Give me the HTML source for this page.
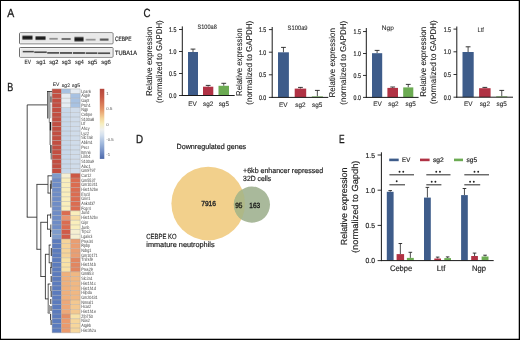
<!DOCTYPE html>
<html><head><meta charset="utf-8"><style>
html,body{margin:0;padding:0;background:#fff;}
svg{display:block;will-change:transform;font-family:"Liberation Sans", sans-serif;text-rendering:geometricPrecision;}
</style></head><body>
<svg width="520" height="340" viewBox="0 0 520 340">
<rect width="520" height="340" fill="#fff"/>
<text x="7.2" y="16.8" font-size="11.8" text-anchor="start" fill="#1a1a1a" stroke="#1a1a1a" stroke-width="0.3" textLength="7.0" lengthAdjust="spacingAndGlyphs">A</text>
<text x="7.2" y="91.0" font-size="11.8" text-anchor="start" fill="#1a1a1a" stroke="#1a1a1a" stroke-width="0.3" textLength="6.0" lengthAdjust="spacingAndGlyphs">B</text>
<text x="143.5" y="16.9" font-size="11.8" text-anchor="start" fill="#1a1a1a" stroke="#1a1a1a" stroke-width="0.3" textLength="7.0" lengthAdjust="spacingAndGlyphs">C</text>
<text x="136" y="143.1" font-size="11.8" text-anchor="start" fill="#1a1a1a" stroke="#1a1a1a" stroke-width="0.3" textLength="7.1" lengthAdjust="spacingAndGlyphs">D</text>
<text x="338.9" y="143.1" font-size="11.8" text-anchor="start" fill="#1a1a1a" stroke="#1a1a1a" stroke-width="0.3" textLength="5.6" lengthAdjust="spacingAndGlyphs">E</text>
<defs><filter id="bl" x="-20%" y="-50%" width="140%" height="200%"><feGaussianBlur stdDeviation="0.75"/></filter><filter id="bl2" x="-20%" y="-50%" width="140%" height="200%"><feGaussianBlur stdDeviation="0.55"/></filter></defs>
<rect x="19.5" y="32.8" width="93.5" height="11.0" rx="0.8" fill="#e8e8e8" stroke="#6e6e6e" stroke-width="1"/>
<rect x="20.5" y="33.699999999999996" width="91.5" height="9.2" fill="none" stroke="#f6f6f6" stroke-width="0.7"/>
<rect x="19.5" y="47.5" width="93.5" height="9.7" rx="0.8" fill="#e8e8e8" stroke="#6e6e6e" stroke-width="1"/>
<rect x="20.5" y="48.4" width="91.5" height="7.9" fill="none" stroke="#f6f6f6" stroke-width="0.7"/>
<defs><linearGradient id="bg" x1="0" y1="0" x2="0" y2="1"><stop offset="0" stop-color="#111" stop-opacity="0"/><stop offset="0.28" stop-color="#111" stop-opacity="0.85"/><stop offset="0.5" stop-color="#111" stop-opacity="1"/><stop offset="0.72" stop-color="#111" stop-opacity="0.85"/><stop offset="1" stop-color="#111" stop-opacity="0"/></linearGradient><linearGradient id="bh" x1="0" y1="0" x2="1" y2="0"><stop offset="0" stop-color="#fff" stop-opacity="0"/><stop offset="0.15" stop-color="#fff" stop-opacity="1"/><stop offset="0.85" stop-color="#fff" stop-opacity="1"/><stop offset="1" stop-color="#fff" stop-opacity="0"/></linearGradient><mask id="mh" maskContentUnits="objectBoundingBox"><rect width="1" height="1" fill="url(#bh)"/></mask><linearGradient id="bh2" x1="0" y1="0" x2="1" y2="0"><stop offset="0" stop-color="#fff" stop-opacity="0.3"/><stop offset="0.06" stop-color="#fff" stop-opacity="1"/><stop offset="0.94" stop-color="#fff" stop-opacity="1"/><stop offset="1" stop-color="#fff" stop-opacity="0.3"/></linearGradient><mask id="mh2" maskContentUnits="objectBoundingBox"><rect width="1" height="1" fill="url(#bh2)"/></mask></defs>
<rect x="21.4" y="34.9" width="12.0" height="5.6" fill="url(#bg)" opacity="1.0" mask="url(#mh)"/>
<rect x="34.6" y="35.5" width="11.9" height="5.2" fill="url(#bg)" opacity="1.0" mask="url(#mh)"/>
<rect x="48.6" y="37.3" width="10.0" height="2.8" fill="url(#bg)" opacity="0.42" mask="url(#mh)"/>
<rect x="60.8" y="37.4" width="10.8" height="3.2" fill="url(#bg)" opacity="0.6" mask="url(#mh)"/>
<rect x="73.6" y="36.1" width="10.8" height="6.2" fill="url(#bg)" opacity="1.0" mask="url(#mh)"/>
<rect x="85.0" y="38.2" width="11.5" height="2.8" fill="url(#bg)" opacity="0.4" mask="url(#mh)"/>
<rect x="99.1" y="38.0" width="10.2" height="3.2" fill="url(#bg)" opacity="0.68" mask="url(#mh)"/>
<rect x="22.3" y="50.3" width="11.7" height="2.6" fill="url(#bg)" opacity="0.75" mask="url(#mh2)"/>
<rect x="34.0" y="51.0" width="13.0" height="2.6" fill="url(#bg)" opacity="0.75" mask="url(#mh2)"/>
<rect x="47.0" y="51.5" width="12.5" height="2.6" fill="url(#bg)" opacity="0.75" mask="url(#mh2)"/>
<rect x="59.5" y="51.6" width="13.0" height="2.6" fill="url(#bg)" opacity="0.75" mask="url(#mh2)"/>
<rect x="72.5" y="51.7" width="12.7" height="2.6" fill="url(#bg)" opacity="0.75" mask="url(#mh2)"/>
<rect x="85.2" y="51.9" width="12.6" height="2.6" fill="url(#bg)" opacity="0.75" mask="url(#mh2)"/>
<rect x="97.8" y="52.0" width="12.7" height="2.6" fill="url(#bg)" opacity="0.75" mask="url(#mh2)"/>
<text x="115" y="41.2" font-size="6.3" text-anchor="start" fill="#1e1e1e" stroke="#1e1e1e" stroke-width="0.18" textLength="16.5" lengthAdjust="spacingAndGlyphs">CEBPE</text>
<text x="115" y="55.3" font-size="6.3" text-anchor="start" fill="#1e1e1e" stroke="#1e1e1e" stroke-width="0.18" textLength="22" lengthAdjust="spacingAndGlyphs">TUBA1A</text>
<text x="24.5" y="64.4" font-size="6.1" text-anchor="start" fill="#1e1e1e" stroke="#1e1e1e" stroke-width="0.1" textLength="6.4" lengthAdjust="spacingAndGlyphs">EV</text>
<text x="36.2" y="64.4" font-size="6.1" text-anchor="start" fill="#1e1e1e" stroke="#1e1e1e" stroke-width="0.1" textLength="9.6" lengthAdjust="spacingAndGlyphs">sg1</text>
<text x="49.2" y="64.4" font-size="6.1" text-anchor="start" fill="#1e1e1e" stroke="#1e1e1e" stroke-width="0.1" textLength="9.1" lengthAdjust="spacingAndGlyphs">sg2</text>
<text x="61.7" y="64.4" font-size="6.1" text-anchor="start" fill="#1e1e1e" stroke="#1e1e1e" stroke-width="0.1" textLength="9.1" lengthAdjust="spacingAndGlyphs">sg3</text>
<text x="75" y="64.4" font-size="6.1" text-anchor="start" fill="#1e1e1e" stroke="#1e1e1e" stroke-width="0.1" textLength="8.8" lengthAdjust="spacingAndGlyphs">sg4</text>
<text x="87.7" y="64.4" font-size="6.1" text-anchor="start" fill="#1e1e1e" stroke="#1e1e1e" stroke-width="0.1" textLength="9.6" lengthAdjust="spacingAndGlyphs">sg5</text>
<text x="101.2" y="64.4" font-size="6.1" text-anchor="start" fill="#1e1e1e" stroke="#1e1e1e" stroke-width="0.1" textLength="9.6" lengthAdjust="spacingAndGlyphs">sg6</text>
<rect x="52.1" y="88.9" width="9.3" height="4.69" fill="#c24e41"/>
<rect x="61.4" y="88.9" width="9.2" height="4.69" fill="#a8c2e2"/>
<rect x="70.6" y="88.9" width="9.6" height="4.69" fill="#e6ecf2"/>
<rect x="52.1" y="93.59" width="9.3" height="4.69" fill="#c24e41"/>
<rect x="61.4" y="93.59" width="9.2" height="4.69" fill="#e6ecf2"/>
<rect x="70.6" y="93.59" width="9.6" height="4.69" fill="#a8c2e2"/>
<rect x="52.1" y="98.28" width="9.3" height="4.69" fill="#c24e41"/>
<rect x="61.4" y="98.28" width="9.2" height="4.69" fill="#e6ecf2"/>
<rect x="70.6" y="98.28" width="9.6" height="4.69" fill="#a8c2e2"/>
<rect x="52.1" y="102.97" width="9.3" height="4.69" fill="#c24e41"/>
<rect x="61.4" y="102.97" width="9.2" height="4.69" fill="#e6ecf2"/>
<rect x="70.6" y="102.97" width="9.6" height="4.69" fill="#a8c2e2"/>
<rect x="52.1" y="107.66" width="9.3" height="4.69" fill="#c24e41"/>
<rect x="61.4" y="107.66" width="9.2" height="4.69" fill="#c8d8ea"/>
<rect x="70.6" y="107.66" width="9.6" height="4.69" fill="#d0dcea"/>
<rect x="52.1" y="112.35" width="9.3" height="4.69" fill="#c24e41"/>
<rect x="61.4" y="112.35" width="9.2" height="4.69" fill="#c8d8ea"/>
<rect x="70.6" y="112.35" width="9.6" height="4.69" fill="#d0dcea"/>
<rect x="52.1" y="117.04" width="9.3" height="4.69" fill="#c24e41"/>
<rect x="61.4" y="117.04" width="9.2" height="4.69" fill="#c8d8ea"/>
<rect x="70.6" y="117.04" width="9.6" height="4.69" fill="#d0dcea"/>
<rect x="52.1" y="121.73" width="9.3" height="4.69" fill="#c24e41"/>
<rect x="61.4" y="121.73" width="9.2" height="4.69" fill="#c8d8ea"/>
<rect x="70.6" y="121.73" width="9.6" height="4.69" fill="#d0dcea"/>
<rect x="52.1" y="126.42" width="9.3" height="4.69" fill="#c24e41"/>
<rect x="61.4" y="126.42" width="9.2" height="4.69" fill="#c8d8ea"/>
<rect x="70.6" y="126.42" width="9.6" height="4.69" fill="#d0dcea"/>
<rect x="52.1" y="131.11" width="9.3" height="4.69" fill="#c24e41"/>
<rect x="61.4" y="131.11" width="9.2" height="4.69" fill="#c8d8ea"/>
<rect x="70.6" y="131.11" width="9.6" height="4.69" fill="#d0dcea"/>
<rect x="52.1" y="135.8" width="9.3" height="4.69" fill="#c24e41"/>
<rect x="61.4" y="135.8" width="9.2" height="4.69" fill="#c8d8ea"/>
<rect x="70.6" y="135.8" width="9.6" height="4.69" fill="#d0dcea"/>
<rect x="52.1" y="140.49" width="9.3" height="4.69" fill="#c24e41"/>
<rect x="61.4" y="140.49" width="9.2" height="4.69" fill="#c8d8ea"/>
<rect x="70.6" y="140.49" width="9.6" height="4.69" fill="#d0dcea"/>
<rect x="52.1" y="145.18" width="9.3" height="4.69" fill="#c24e41"/>
<rect x="61.4" y="145.18" width="9.2" height="4.69" fill="#c8d8ea"/>
<rect x="70.6" y="145.18" width="9.6" height="4.69" fill="#d0dcea"/>
<rect x="52.1" y="149.87" width="9.3" height="4.69" fill="#c24e41"/>
<rect x="61.4" y="149.87" width="9.2" height="4.69" fill="#c8d8ea"/>
<rect x="70.6" y="149.87" width="9.6" height="4.69" fill="#d0dcea"/>
<rect x="52.1" y="154.56" width="9.3" height="4.69" fill="#c24e41"/>
<rect x="61.4" y="154.56" width="9.2" height="4.69" fill="#c8d8ea"/>
<rect x="70.6" y="154.56" width="9.6" height="4.69" fill="#d0dcea"/>
<rect x="52.1" y="159.25" width="9.3" height="4.69" fill="#c24e41"/>
<rect x="61.4" y="159.25" width="9.2" height="4.69" fill="#c8d8ea"/>
<rect x="70.6" y="159.25" width="9.6" height="4.69" fill="#d0dcea"/>
<rect x="52.1" y="163.94" width="9.3" height="4.69" fill="#c24e41"/>
<rect x="61.4" y="163.94" width="9.2" height="4.69" fill="#c8d8ea"/>
<rect x="70.6" y="163.94" width="9.6" height="4.69" fill="#d0dcea"/>
<rect x="52.1" y="168.63" width="9.3" height="4.69" fill="#c24e41"/>
<rect x="61.4" y="168.63" width="9.2" height="4.69" fill="#c8d8ea"/>
<rect x="70.6" y="168.63" width="9.6" height="4.69" fill="#d0dcea"/>
<rect x="52.1" y="173.32" width="9.3" height="4.69" fill="#7e9ccc"/>
<rect x="61.4" y="173.32" width="9.2" height="4.69" fill="#f5efd2"/>
<rect x="70.6" y="173.32" width="9.6" height="4.69" fill="#cc5844"/>
<rect x="52.1" y="178.01" width="9.3" height="4.69" fill="#6e8cc6"/>
<rect x="61.4" y="178.01" width="9.2" height="4.69" fill="#f9eebc"/>
<rect x="70.6" y="178.01" width="9.6" height="4.69" fill="#db6c50"/>
<rect x="52.1" y="182.7" width="9.3" height="4.69" fill="#6e8cc6"/>
<rect x="61.4" y="182.7" width="9.2" height="4.69" fill="#f9eebc"/>
<rect x="70.6" y="182.7" width="9.6" height="4.69" fill="#db6c50"/>
<rect x="52.1" y="187.39" width="9.3" height="4.69" fill="#6e8cc6"/>
<rect x="61.4" y="187.39" width="9.2" height="4.69" fill="#f9eebc"/>
<rect x="70.6" y="187.39" width="9.6" height="4.69" fill="#db6c50"/>
<rect x="52.1" y="192.08" width="9.3" height="4.69" fill="#6e8cc6"/>
<rect x="61.4" y="192.08" width="9.2" height="4.69" fill="#f9eebc"/>
<rect x="70.6" y="192.08" width="9.6" height="4.69" fill="#db6c50"/>
<rect x="52.1" y="196.77" width="9.3" height="4.69" fill="#6e8cc6"/>
<rect x="61.4" y="196.77" width="9.2" height="4.69" fill="#f9eebc"/>
<rect x="70.6" y="196.77" width="9.6" height="4.69" fill="#db6c50"/>
<rect x="52.1" y="201.46" width="9.3" height="4.69" fill="#6e8cc6"/>
<rect x="61.4" y="201.46" width="9.2" height="4.69" fill="#f9eebc"/>
<rect x="70.6" y="201.46" width="9.6" height="4.69" fill="#db6c50"/>
<rect x="52.1" y="206.15" width="9.3" height="4.69" fill="#6e8cc6"/>
<rect x="61.4" y="206.15" width="9.2" height="4.69" fill="#f9eebc"/>
<rect x="70.6" y="206.15" width="9.6" height="4.69" fill="#db6c50"/>
<rect x="52.1" y="210.84" width="9.3" height="4.69" fill="#6e8cc6"/>
<rect x="61.4" y="210.84" width="9.2" height="4.69" fill="#db6c50"/>
<rect x="70.6" y="210.84" width="9.6" height="4.69" fill="#f9eebc"/>
<rect x="52.1" y="215.53" width="9.3" height="4.69" fill="#6e8cc6"/>
<rect x="61.4" y="215.53" width="9.2" height="4.69" fill="#e89470"/>
<rect x="70.6" y="215.53" width="9.6" height="4.69" fill="#f7dca4"/>
<rect x="52.1" y="220.22" width="9.3" height="4.69" fill="#6e8cc6"/>
<rect x="61.4" y="220.22" width="9.2" height="4.69" fill="#db6c50"/>
<rect x="70.6" y="220.22" width="9.6" height="4.69" fill="#f9eebc"/>
<rect x="52.1" y="224.91" width="9.3" height="4.69" fill="#6e8cc6"/>
<rect x="61.4" y="224.91" width="9.2" height="4.69" fill="#db6c50"/>
<rect x="70.6" y="224.91" width="9.6" height="4.69" fill="#f9eebc"/>
<rect x="52.1" y="229.6" width="9.3" height="4.69" fill="#7e9ccc"/>
<rect x="61.4" y="229.6" width="9.2" height="4.69" fill="#d05a48"/>
<rect x="70.6" y="229.6" width="9.6" height="4.69" fill="#f5efd2"/>
<rect x="52.1" y="234.29" width="9.3" height="4.69" fill="#7e9ccc"/>
<rect x="61.4" y="234.29" width="9.2" height="4.69" fill="#d05a48"/>
<rect x="70.6" y="234.29" width="9.6" height="4.69" fill="#f5efd2"/>
<rect x="52.1" y="238.98" width="9.3" height="4.69" fill="#5b7bbd"/>
<rect x="61.4" y="238.98" width="9.2" height="4.69" fill="#f6d49a"/>
<rect x="70.6" y="238.98" width="9.6" height="4.69" fill="#e99e72"/>
<rect x="52.1" y="243.67" width="9.3" height="4.69" fill="#5b7bbd"/>
<rect x="61.4" y="243.67" width="9.2" height="4.69" fill="#f6d49a"/>
<rect x="70.6" y="243.67" width="9.6" height="4.69" fill="#e99e72"/>
<rect x="52.1" y="248.36" width="9.3" height="4.69" fill="#5b7bbd"/>
<rect x="61.4" y="248.36" width="9.2" height="4.69" fill="#f6d49a"/>
<rect x="70.6" y="248.36" width="9.6" height="4.69" fill="#e99e72"/>
<rect x="52.1" y="253.05" width="9.3" height="4.69" fill="#5b7bbd"/>
<rect x="61.4" y="253.05" width="9.2" height="4.69" fill="#f6d49a"/>
<rect x="70.6" y="253.05" width="9.6" height="4.69" fill="#e99e72"/>
<rect x="52.1" y="257.74" width="9.3" height="4.69" fill="#5b7bbd"/>
<rect x="61.4" y="257.74" width="9.2" height="4.69" fill="#f8e2a6"/>
<rect x="70.6" y="257.74" width="9.6" height="4.69" fill="#e28660"/>
<rect x="52.1" y="262.43" width="9.3" height="4.69" fill="#5b7bbd"/>
<rect x="61.4" y="262.43" width="9.2" height="4.69" fill="#f8e2a6"/>
<rect x="70.6" y="262.43" width="9.6" height="4.69" fill="#e28660"/>
<rect x="52.1" y="267.12" width="9.3" height="4.69" fill="#5b7bbd"/>
<rect x="61.4" y="267.12" width="9.2" height="4.69" fill="#f8e2a6"/>
<rect x="70.6" y="267.12" width="9.6" height="4.69" fill="#e28660"/>
<rect x="52.1" y="271.81" width="9.3" height="4.69" fill="#5b7bbd"/>
<rect x="61.4" y="271.81" width="9.2" height="4.69" fill="#efb07c"/>
<rect x="70.6" y="271.81" width="9.6" height="4.69" fill="#f0b883"/>
<rect x="52.1" y="276.5" width="9.3" height="4.69" fill="#5b7bbd"/>
<rect x="61.4" y="276.5" width="9.2" height="4.69" fill="#efb07c"/>
<rect x="70.6" y="276.5" width="9.6" height="4.69" fill="#f0b883"/>
<rect x="52.1" y="281.19" width="9.3" height="4.69" fill="#5b7bbd"/>
<rect x="61.4" y="281.19" width="9.2" height="4.69" fill="#efb07c"/>
<rect x="70.6" y="281.19" width="9.6" height="4.69" fill="#f0b883"/>
<rect x="52.1" y="285.88" width="9.3" height="4.69" fill="#5b7bbd"/>
<rect x="61.4" y="285.88" width="9.2" height="4.69" fill="#efb07c"/>
<rect x="70.6" y="285.88" width="9.6" height="4.69" fill="#f0b883"/>
<rect x="52.1" y="290.57" width="9.3" height="4.69" fill="#5b7bbd"/>
<rect x="61.4" y="290.57" width="9.2" height="4.69" fill="#efb07c"/>
<rect x="70.6" y="290.57" width="9.6" height="4.69" fill="#f0b883"/>
<rect x="52.1" y="295.26" width="9.3" height="4.69" fill="#5b7bbd"/>
<rect x="61.4" y="295.26" width="9.2" height="4.69" fill="#efb07c"/>
<rect x="70.6" y="295.26" width="9.6" height="4.69" fill="#f0b883"/>
<rect x="52.1" y="299.95" width="9.3" height="4.69" fill="#5b7bbd"/>
<rect x="61.4" y="299.95" width="9.2" height="4.69" fill="#eea878"/>
<rect x="70.6" y="299.95" width="9.6" height="4.69" fill="#f3c890"/>
<rect x="52.1" y="304.64" width="9.3" height="4.69" fill="#5b7bbd"/>
<rect x="61.4" y="304.64" width="9.2" height="4.69" fill="#eea878"/>
<rect x="70.6" y="304.64" width="9.6" height="4.69" fill="#f3c890"/>
<rect x="52.1" y="309.33" width="9.3" height="4.69" fill="#5b7bbd"/>
<rect x="61.4" y="309.33" width="9.2" height="4.69" fill="#eea878"/>
<rect x="70.6" y="309.33" width="9.6" height="4.69" fill="#f3c890"/>
<rect x="52.1" y="314.02" width="9.3" height="4.69" fill="#5b7bbd"/>
<rect x="61.4" y="314.02" width="9.2" height="4.69" fill="#e48e64"/>
<rect x="70.6" y="314.02" width="9.6" height="4.69" fill="#f8e2a8"/>
<rect x="52.1" y="318.71" width="9.3" height="4.69" fill="#5b7bbd"/>
<rect x="61.4" y="318.71" width="9.2" height="4.69" fill="#eb9a6c"/>
<rect x="70.6" y="318.71" width="9.6" height="4.69" fill="#f6d69c"/>
<rect x="52.1" y="323.4" width="9.3" height="4.69" fill="#5b7bbd"/>
<rect x="61.4" y="323.4" width="9.2" height="4.69" fill="#eb9a6c"/>
<rect x="70.6" y="323.4" width="9.6" height="4.69" fill="#f6d69c"/>
<rect x="52.1" y="328.09" width="9.3" height="4.69" fill="#5b7bbd"/>
<rect x="61.4" y="328.09" width="9.2" height="4.69" fill="#eb9a6c"/>
<rect x="70.6" y="328.09" width="9.6" height="4.69" fill="#f6d69c"/>
<line x1="52.1" y1="88.9" x2="80.2" y2="88.9" stroke="#a4a4a4" stroke-width="0.6" opacity="0.75"/>
<line x1="52.1" y1="93.59" x2="80.2" y2="93.59" stroke="#a4a4a4" stroke-width="0.6" opacity="0.75"/>
<line x1="52.1" y1="98.28" x2="80.2" y2="98.28" stroke="#a4a4a4" stroke-width="0.6" opacity="0.75"/>
<line x1="52.1" y1="102.97" x2="80.2" y2="102.97" stroke="#a4a4a4" stroke-width="0.6" opacity="0.75"/>
<line x1="52.1" y1="107.66" x2="80.2" y2="107.66" stroke="#a4a4a4" stroke-width="0.6" opacity="0.75"/>
<line x1="52.1" y1="112.35" x2="80.2" y2="112.35" stroke="#a4a4a4" stroke-width="0.6" opacity="0.75"/>
<line x1="52.1" y1="117.04" x2="80.2" y2="117.04" stroke="#a4a4a4" stroke-width="0.6" opacity="0.75"/>
<line x1="52.1" y1="121.73" x2="80.2" y2="121.73" stroke="#a4a4a4" stroke-width="0.6" opacity="0.75"/>
<line x1="52.1" y1="126.42" x2="80.2" y2="126.42" stroke="#a4a4a4" stroke-width="0.6" opacity="0.75"/>
<line x1="52.1" y1="131.11" x2="80.2" y2="131.11" stroke="#a4a4a4" stroke-width="0.6" opacity="0.75"/>
<line x1="52.1" y1="135.8" x2="80.2" y2="135.8" stroke="#a4a4a4" stroke-width="0.6" opacity="0.75"/>
<line x1="52.1" y1="140.49" x2="80.2" y2="140.49" stroke="#a4a4a4" stroke-width="0.6" opacity="0.75"/>
<line x1="52.1" y1="145.18" x2="80.2" y2="145.18" stroke="#a4a4a4" stroke-width="0.6" opacity="0.75"/>
<line x1="52.1" y1="149.87" x2="80.2" y2="149.87" stroke="#a4a4a4" stroke-width="0.6" opacity="0.75"/>
<line x1="52.1" y1="154.56" x2="80.2" y2="154.56" stroke="#a4a4a4" stroke-width="0.6" opacity="0.75"/>
<line x1="52.1" y1="159.25" x2="80.2" y2="159.25" stroke="#a4a4a4" stroke-width="0.6" opacity="0.75"/>
<line x1="52.1" y1="163.94" x2="80.2" y2="163.94" stroke="#a4a4a4" stroke-width="0.6" opacity="0.75"/>
<line x1="52.1" y1="168.63" x2="80.2" y2="168.63" stroke="#a4a4a4" stroke-width="0.6" opacity="0.75"/>
<line x1="52.1" y1="173.32" x2="80.2" y2="173.32" stroke="#a4a4a4" stroke-width="0.6" opacity="0.75"/>
<line x1="52.1" y1="178.01" x2="80.2" y2="178.01" stroke="#a4a4a4" stroke-width="0.6" opacity="0.75"/>
<line x1="52.1" y1="182.7" x2="80.2" y2="182.7" stroke="#a4a4a4" stroke-width="0.6" opacity="0.75"/>
<line x1="52.1" y1="187.39" x2="80.2" y2="187.39" stroke="#a4a4a4" stroke-width="0.6" opacity="0.75"/>
<line x1="52.1" y1="192.08" x2="80.2" y2="192.08" stroke="#a4a4a4" stroke-width="0.6" opacity="0.75"/>
<line x1="52.1" y1="196.77" x2="80.2" y2="196.77" stroke="#a4a4a4" stroke-width="0.6" opacity="0.75"/>
<line x1="52.1" y1="201.46" x2="80.2" y2="201.46" stroke="#a4a4a4" stroke-width="0.6" opacity="0.75"/>
<line x1="52.1" y1="206.15" x2="80.2" y2="206.15" stroke="#a4a4a4" stroke-width="0.6" opacity="0.75"/>
<line x1="52.1" y1="210.84" x2="80.2" y2="210.84" stroke="#a4a4a4" stroke-width="0.6" opacity="0.75"/>
<line x1="52.1" y1="215.53" x2="80.2" y2="215.53" stroke="#a4a4a4" stroke-width="0.6" opacity="0.75"/>
<line x1="52.1" y1="220.22" x2="80.2" y2="220.22" stroke="#a4a4a4" stroke-width="0.6" opacity="0.75"/>
<line x1="52.1" y1="224.91" x2="80.2" y2="224.91" stroke="#a4a4a4" stroke-width="0.6" opacity="0.75"/>
<line x1="52.1" y1="229.6" x2="80.2" y2="229.6" stroke="#a4a4a4" stroke-width="0.6" opacity="0.75"/>
<line x1="52.1" y1="234.29" x2="80.2" y2="234.29" stroke="#a4a4a4" stroke-width="0.6" opacity="0.75"/>
<line x1="52.1" y1="238.98" x2="80.2" y2="238.98" stroke="#a4a4a4" stroke-width="0.6" opacity="0.75"/>
<line x1="52.1" y1="243.67" x2="80.2" y2="243.67" stroke="#a4a4a4" stroke-width="0.6" opacity="0.75"/>
<line x1="52.1" y1="248.36" x2="80.2" y2="248.36" stroke="#a4a4a4" stroke-width="0.6" opacity="0.75"/>
<line x1="52.1" y1="253.05" x2="80.2" y2="253.05" stroke="#a4a4a4" stroke-width="0.6" opacity="0.75"/>
<line x1="52.1" y1="257.74" x2="80.2" y2="257.74" stroke="#a4a4a4" stroke-width="0.6" opacity="0.75"/>
<line x1="52.1" y1="262.43" x2="80.2" y2="262.43" stroke="#a4a4a4" stroke-width="0.6" opacity="0.75"/>
<line x1="52.1" y1="267.12" x2="80.2" y2="267.12" stroke="#a4a4a4" stroke-width="0.6" opacity="0.75"/>
<line x1="52.1" y1="271.81" x2="80.2" y2="271.81" stroke="#a4a4a4" stroke-width="0.6" opacity="0.75"/>
<line x1="52.1" y1="276.5" x2="80.2" y2="276.5" stroke="#a4a4a4" stroke-width="0.6" opacity="0.75"/>
<line x1="52.1" y1="281.19" x2="80.2" y2="281.19" stroke="#a4a4a4" stroke-width="0.6" opacity="0.75"/>
<line x1="52.1" y1="285.88" x2="80.2" y2="285.88" stroke="#a4a4a4" stroke-width="0.6" opacity="0.75"/>
<line x1="52.1" y1="290.57" x2="80.2" y2="290.57" stroke="#a4a4a4" stroke-width="0.6" opacity="0.75"/>
<line x1="52.1" y1="295.26" x2="80.2" y2="295.26" stroke="#a4a4a4" stroke-width="0.6" opacity="0.75"/>
<line x1="52.1" y1="299.95" x2="80.2" y2="299.95" stroke="#a4a4a4" stroke-width="0.6" opacity="0.75"/>
<line x1="52.1" y1="304.64" x2="80.2" y2="304.64" stroke="#a4a4a4" stroke-width="0.6" opacity="0.75"/>
<line x1="52.1" y1="309.33" x2="80.2" y2="309.33" stroke="#a4a4a4" stroke-width="0.6" opacity="0.75"/>
<line x1="52.1" y1="314.02" x2="80.2" y2="314.02" stroke="#a4a4a4" stroke-width="0.6" opacity="0.75"/>
<line x1="52.1" y1="318.71" x2="80.2" y2="318.71" stroke="#a4a4a4" stroke-width="0.6" opacity="0.75"/>
<line x1="52.1" y1="323.4" x2="80.2" y2="323.4" stroke="#a4a4a4" stroke-width="0.6" opacity="0.75"/>
<line x1="52.1" y1="328.09" x2="80.2" y2="328.09" stroke="#a4a4a4" stroke-width="0.6" opacity="0.75"/>
<line x1="52.1" y1="332.78" x2="80.2" y2="332.78" stroke="#a4a4a4" stroke-width="0.6" opacity="0.75"/>
<line x1="52.1" y1="88.9" x2="52.1" y2="332.78000000000003" stroke="#9a9a9a" stroke-width="0.45" opacity="0.8"/>
<line x1="61.4" y1="88.9" x2="61.4" y2="332.78000000000003" stroke="#9a9a9a" stroke-width="0.45" opacity="0.8"/>
<line x1="70.6" y1="88.9" x2="70.6" y2="332.78000000000003" stroke="#9a9a9a" stroke-width="0.45" opacity="0.8"/>
<line x1="80.2" y1="88.9" x2="80.2" y2="332.78000000000003" stroke="#9a9a9a" stroke-width="0.45" opacity="0.8"/>
<g transform="translate(81.2,0) scale(0.8,1)">
<text x="0" y="92.55" font-size="4.7" text-anchor="start" fill="#404040" stroke="#404040" stroke-width="0">Lpar6</text>
<text x="0" y="97.24" font-size="4.7" text-anchor="start" fill="#404040" stroke="#404040" stroke-width="0">Aqp9</text>
<text x="0" y="101.93" font-size="4.7" text-anchor="start" fill="#404040" stroke="#404040" stroke-width="0">Gapt</text>
<text x="0" y="106.62" font-size="4.7" text-anchor="start" fill="#404040" stroke="#404040" stroke-width="0">Ptch1</text>
<text x="0" y="111.31" font-size="4.7" text-anchor="start" fill="#404040" stroke="#404040" stroke-width="0">Ngp</text>
<text x="0" y="116.0" font-size="4.7" text-anchor="start" fill="#404040" stroke="#404040" stroke-width="0">Cebpe</text>
<text x="0" y="120.69" font-size="4.7" text-anchor="start" fill="#404040" stroke="#404040" stroke-width="0">S100a8</text>
<text x="0" y="125.38" font-size="4.7" text-anchor="start" fill="#404040" stroke="#404040" stroke-width="0">Ltf</text>
<text x="0" y="130.07" font-size="4.7" text-anchor="start" fill="#404040" stroke="#404040" stroke-width="0">Ahcy</text>
<text x="0" y="134.76" font-size="4.7" text-anchor="start" fill="#404040" stroke="#404040" stroke-width="0">Lyz2</text>
<text x="0" y="139.45" font-size="4.7" text-anchor="start" fill="#404040" stroke="#404040" stroke-width="0">Slc7a8</text>
<text x="0" y="144.14" font-size="4.7" text-anchor="start" fill="#404040" stroke="#404040" stroke-width="0">Ablim1</text>
<text x="0" y="148.83" font-size="4.7" text-anchor="start" fill="#404040" stroke="#404040" stroke-width="0">Pecr</text>
<text x="0" y="153.52" font-size="4.7" text-anchor="start" fill="#404040" stroke="#404040" stroke-width="0">Itmn6</text>
<text x="0" y="158.21" font-size="4.7" text-anchor="start" fill="#404040" stroke="#404040" stroke-width="0">Lilrb4</text>
<text x="0" y="162.9" font-size="4.7" text-anchor="start" fill="#404040" stroke="#404040" stroke-width="0">S100a9</text>
<text x="0" y="167.59" font-size="4.7" text-anchor="start" fill="#404040" stroke="#404040" stroke-width="0">Alac1</text>
<text x="0" y="172.28" font-size="4.7" text-anchor="start" fill="#404040" stroke="#404040" stroke-width="0">Gm9797</text>
<text x="0" y="176.97" font-size="4.7" text-anchor="start" fill="#404040" stroke="#404040" stroke-width="0">Car12</text>
<text x="0" y="181.66" font-size="4.7" text-anchor="start" fill="#404040" stroke="#404040" stroke-width="0">Gm5537</text>
<text x="0" y="186.35" font-size="4.7" text-anchor="start" fill="#404040" stroke="#404040" stroke-width="0">Gm10241</text>
<text x="0" y="191.04" font-size="4.7" text-anchor="start" fill="#404040" stroke="#404040" stroke-width="0">Hist1h2be</text>
<text x="0" y="195.73" font-size="4.7" text-anchor="start" fill="#404040" stroke="#404040" stroke-width="0">Ero1l</text>
<text x="0" y="200.42" font-size="4.7" text-anchor="start" fill="#404040" stroke="#404040" stroke-width="0">Grin1</text>
<text x="0" y="205.11" font-size="4.7" text-anchor="start" fill="#404040" stroke="#404040" stroke-width="0">Ankrd37</text>
<text x="0" y="209.8" font-size="4.7" text-anchor="start" fill="#404040" stroke="#404040" stroke-width="0">Fcgr4</text>
<text x="0" y="214.49" font-size="4.7" text-anchor="start" fill="#404040" stroke="#404040" stroke-width="0">Jund</text>
<text x="0" y="219.18" font-size="4.7" text-anchor="start" fill="#404040" stroke="#404040" stroke-width="0">Hist1h2bv</text>
<text x="0" y="223.87" font-size="4.7" text-anchor="start" fill="#404040" stroke="#404040" stroke-width="0">Gipr</text>
<text x="0" y="228.56" font-size="4.7" text-anchor="start" fill="#404040" stroke="#404040" stroke-width="0">Junb</text>
<text x="0" y="233.25" font-size="4.7" text-anchor="start" fill="#404040" stroke="#404040" stroke-width="0">Trpc2</text>
<text x="0" y="237.94" font-size="4.7" text-anchor="start" fill="#404040" stroke="#404040" stroke-width="0">Lgals3</text>
<text x="0" y="242.63" font-size="4.7" text-anchor="start" fill="#404040" stroke="#404040" stroke-width="0">Prss34</text>
<text x="0" y="247.32" font-size="4.7" text-anchor="start" fill="#404040" stroke="#404040" stroke-width="0">Rpbp</text>
<text x="0" y="252.01" font-size="4.7" text-anchor="start" fill="#404040" stroke="#404040" stroke-width="0">Ndrg1</text>
<text x="0" y="256.7" font-size="4.7" text-anchor="start" fill="#404040" stroke="#404040" stroke-width="0">Gm10171</text>
<text x="0" y="261.39" font-size="4.7" text-anchor="start" fill="#404040" stroke="#404040" stroke-width="0">Tnfrsf9</text>
<text x="0" y="266.08" font-size="4.7" text-anchor="start" fill="#404040" stroke="#404040" stroke-width="0">Hist1h1b</text>
<text x="0" y="270.77" font-size="4.7" text-anchor="start" fill="#404040" stroke="#404040" stroke-width="0">Prss29</text>
<text x="0" y="275.46" font-size="4.7" text-anchor="start" fill="#404040" stroke="#404040" stroke-width="0">Gm853</text>
<text x="0" y="280.15" font-size="4.7" text-anchor="start" fill="#404040" stroke="#404040" stroke-width="0">Slc2a1</text>
<text x="0" y="284.84" font-size="4.7" text-anchor="start" fill="#404040" stroke="#404040" stroke-width="0">Hist1h1c</text>
<text x="0" y="289.53" font-size="4.7" text-anchor="start" fill="#404040" stroke="#404040" stroke-width="0">Hist1h1d</text>
<text x="0" y="294.22" font-size="4.7" text-anchor="start" fill="#404040" stroke="#404040" stroke-width="0">Hilpda</text>
<text x="0" y="298.91" font-size="4.7" text-anchor="start" fill="#404040" stroke="#404040" stroke-width="0">Gm20431</text>
<text x="0" y="303.6" font-size="4.7" text-anchor="start" fill="#404040" stroke="#404040" stroke-width="0">Nmral1</text>
<text x="0" y="308.29" font-size="4.7" text-anchor="start" fill="#404040" stroke="#404040" stroke-width="0">Hcar2</text>
<text x="0" y="312.98" font-size="4.7" text-anchor="start" fill="#404040" stroke="#404040" stroke-width="0">Hist1h1e</text>
<text x="0" y="317.67" font-size="4.7" text-anchor="start" fill="#404040" stroke="#404040" stroke-width="0">Zfp750</text>
<text x="0" y="322.36" font-size="4.7" text-anchor="start" fill="#404040" stroke="#404040" stroke-width="0">Nos2</text>
<text x="0" y="327.05" font-size="4.7" text-anchor="start" fill="#404040" stroke="#404040" stroke-width="0">Atg9b</text>
<text x="0" y="331.74" font-size="4.7" text-anchor="start" fill="#404040" stroke="#404040" stroke-width="0">Hist3h2a</text>
</g>
<text x="56.0" y="86.4" font-size="5.0" text-anchor="middle" fill="#2a2a2a" stroke="#2a2a2a" stroke-width="0.08">EV</text>
<text x="65.9" y="86.5" font-size="5.0" text-anchor="middle" fill="#2a2a2a" stroke="#2a2a2a" stroke-width="0.08">sg2</text>
<text x="76.0" y="86.5" font-size="5.0" text-anchor="middle" fill="#2a2a2a" stroke="#2a2a2a" stroke-width="0.08">sg5</text>
<defs><linearGradient id="cb" x1="0" y1="0" x2="0" y2="1"><stop offset="0" stop-color="#b4463c"/><stop offset="0.12" stop-color="#c85a46"/><stop offset="0.29" stop-color="#e49466"/><stop offset="0.42" stop-color="#f4d49a"/><stop offset="0.50" stop-color="#f6eebe"/><stop offset="0.58" stop-color="#eef0ee"/><stop offset="0.66" stop-color="#d4e0ee"/><stop offset="0.78" stop-color="#a0b8dc"/><stop offset="0.92" stop-color="#6a86c0"/><stop offset="1" stop-color="#4c68a8"/></linearGradient></defs>
<rect x="99.8" y="88.8" width="4.5" height="70.1" fill="url(#cb)"/>
<text x="106.3" y="95.1" font-size="4.3" text-anchor="start" fill="#555" stroke="#555" stroke-width="0">1</text>
<text x="106.3" y="110.4" font-size="4.3" text-anchor="start" fill="#555" stroke="#555" stroke-width="0">0.5</text>
<text x="106.3" y="125.7" font-size="4.3" text-anchor="start" fill="#555" stroke="#555" stroke-width="0">0</text>
<text x="106.3" y="141.0" font-size="4.3" text-anchor="start" fill="#555" stroke="#555" stroke-width="0">-0.5</text>
<text x="106.3" y="156.3" font-size="4.3" text-anchor="start" fill="#555" stroke="#555" stroke-width="0">-1</text>
<line x1="27.2" y1="104.9" x2="27.2" y2="217.2" stroke="#1e1e1e" stroke-width="0.8"/>
<line x1="27.2" y1="104.9" x2="47.3" y2="104.9" stroke="#1e1e1e" stroke-width="0.8"/>
<line x1="26.8" y1="217.2" x2="36.9" y2="217.2" stroke="#1e1e1e" stroke-width="0.8"/>
<rect x="47.2" y="91.5" width="3.2" height="26.9" fill="#a0a0a0"/>
<line x1="47.5" y1="91.1" x2="47.5" y2="118.4" stroke="#555" stroke-width="0.8"/>
<line x1="47.1" y1="91.5" x2="52.1" y2="91.5" stroke="#1e1e1e" stroke-width="0.8"/>
<line x1="51.2" y1="91.5" x2="51.2" y2="96.5" stroke="#888" stroke-width="0.6"/>
<line x1="51.0" y1="96.4" x2="51.0" y2="102.5" stroke="#111" stroke-width="0.9"/>
<line x1="50.8" y1="104" x2="50.8" y2="118" stroke="#999" stroke-width="0.6"/>
<line x1="49.3" y1="118.0" x2="49.3" y2="122.5" stroke="#555" stroke-width="0.7"/>
<rect x="49.6" y="122.0" width="1.6" height="8.6" fill="#111"/>
<line x1="50.1" y1="130.6" x2="50.1" y2="145.0" stroke="#333" stroke-width="0.8"/>
<rect x="50.3" y="145.0" width="1.2" height="8.0" fill="#111"/>
<line x1="51.2" y1="153.0" x2="51.2" y2="159.5" stroke="#333" stroke-width="0.8"/>
<line x1="36.9" y1="184.4" x2="36.9" y2="249.3" stroke="#1e1e1e" stroke-width="0.8"/>
<line x1="36.5" y1="184.4" x2="48.0" y2="184.4" stroke="#1e1e1e" stroke-width="0.8"/>
<line x1="48.0" y1="175.8" x2="48.0" y2="193.1" stroke="#333" stroke-width="0.8"/>
<line x1="47.6" y1="175.8" x2="52.1" y2="175.8" stroke="#1e1e1e" stroke-width="0.8"/>
<line x1="47.6" y1="193.1" x2="50.4" y2="193.1" stroke="#1e1e1e" stroke-width="0.8"/>
<line x1="51.1" y1="180.4" x2="51.1" y2="188.8" stroke="#111" stroke-width="1.0"/>
<line x1="50.4" y1="184.0" x2="50.9" y2="207.5" stroke="#222" stroke-width="0.8"/>
<line x1="36.5" y1="249.3" x2="40.8" y2="249.3" stroke="#1e1e1e" stroke-width="0.8"/>
<line x1="40.8" y1="222.3" x2="40.8" y2="276.5" stroke="#1e1e1e" stroke-width="0.8"/>
<line x1="40.4" y1="222.3" x2="47.5" y2="222.3" stroke="#1e1e1e" stroke-width="0.8"/>
<line x1="47.5" y1="215.0" x2="47.5" y2="229.2" stroke="#333" stroke-width="0.8"/>
<line x1="47.1" y1="215.0" x2="51.0" y2="215.0" stroke="#1e1e1e" stroke-width="0.8"/>
<line x1="47.1" y1="229.2" x2="50.5" y2="229.2" stroke="#1e1e1e" stroke-width="0.8"/>
<line x1="50.7" y1="213.5" x2="50.7" y2="218.5" stroke="#222" stroke-width="0.8"/>
<line x1="50.8" y1="224.5" x2="50.8" y2="232.0" stroke="#222" stroke-width="0.8"/>
<line x1="50.6" y1="230.0" x2="50.6" y2="237.0" stroke="#111" stroke-width="1.1"/>
<line x1="40.4" y1="276.5" x2="45.4" y2="276.5" stroke="#1e1e1e" stroke-width="0.8"/>
<line x1="45.4" y1="254.3" x2="45.4" y2="298.9" stroke="#1e1e1e" stroke-width="0.8"/>
<line x1="45.0" y1="254.3" x2="49.2" y2="254.3" stroke="#1e1e1e" stroke-width="0.8"/>
<line x1="49.2" y1="245.0" x2="49.2" y2="262.8" stroke="#333" stroke-width="0.8"/>
<line x1="48.8" y1="245.0" x2="51.0" y2="245.0" stroke="#1e1e1e" stroke-width="0.8"/>
<line x1="48.8" y1="262.8" x2="50.5" y2="262.8" stroke="#1e1e1e" stroke-width="0.8"/>
<line x1="45.0" y1="298.9" x2="48.2" y2="298.9" stroke="#1e1e1e" stroke-width="0.8"/>
<line x1="48.2" y1="284.0" x2="48.2" y2="313.0" stroke="#333" stroke-width="0.8"/>
<line x1="47.8" y1="284.0" x2="50.5" y2="284.0" stroke="#1e1e1e" stroke-width="0.8"/>
<line x1="47.8" y1="313.0" x2="50.5" y2="313.0" stroke="#1e1e1e" stroke-width="0.8"/>
<rect x="48.2" y="305.0" width="1.8" height="8.0" fill="#9a9a9a"/>
<line x1="51.2" y1="262" x2="51.2" y2="268" stroke="#1a1a1a" stroke-width="0.9"/>
<line x1="50.8" y1="267" x2="50.8" y2="274" stroke="#1a1a1a" stroke-width="0.9"/>
<line x1="51.2" y1="276" x2="51.2" y2="282" stroke="#1a1a1a" stroke-width="0.9"/>
<line x1="50.9" y1="286" x2="50.9" y2="291" stroke="#1a1a1a" stroke-width="0.9"/>
<line x1="51.2" y1="291" x2="51.2" y2="297" stroke="#1a1a1a" stroke-width="0.9"/>
<line x1="50.8" y1="299" x2="50.8" y2="304" stroke="#1a1a1a" stroke-width="0.9"/>
<line x1="51.0" y1="306" x2="51.0" y2="311" stroke="#1a1a1a" stroke-width="0.9"/>
<line x1="50.6" y1="314" x2="50.6" y2="320" stroke="#1a1a1a" stroke-width="0.9"/>
<line x1="51.1" y1="320" x2="51.1" y2="325" stroke="#1a1a1a" stroke-width="0.9"/>
<line x1="51.3" y1="248" x2="51.3" y2="256" stroke="#1a1a1a" stroke-width="0.9"/>
<line x1="193.0" y1="49.1" x2="193.0" y2="52.0" stroke="#222" stroke-width="0.8"/>
<line x1="190.6" y1="49.1" x2="195.4" y2="49.1" stroke="#222" stroke-width="0.9"/>
<rect x="188.0" y="52.0" width="10.0" height="43.5" fill="#3e5c8a"/>
<line x1="208.15" y1="85.4" x2="208.15" y2="86.7" stroke="#222" stroke-width="0.8"/>
<line x1="205.75" y1="85.4" x2="210.55" y2="85.4" stroke="#222" stroke-width="0.9"/>
<rect x="203.0" y="86.7" width="10.300000000000011" height="8.799999999999997" fill="#b03244"/>
<line x1="223.75" y1="83.3" x2="223.75" y2="85.8" stroke="#222" stroke-width="0.8"/>
<line x1="221.35" y1="83.3" x2="226.15" y2="83.3" stroke="#222" stroke-width="0.9"/>
<rect x="218.5" y="85.8" width="10.5" height="9.700000000000003" fill="#6cab53"/>
<line x1="182.3" y1="26.4" x2="182.3" y2="96.0" stroke="#1a1a1a" stroke-width="1.0"/>
<line x1="181.8" y1="95.5" x2="234.7" y2="95.5" stroke="#1a1a1a" stroke-width="1.0"/>
<line x1="179.0" y1="95.5" x2="182.3" y2="95.5" stroke="#1a1a1a" stroke-width="0.9"/>
<text x="176.4" y="97.9" font-size="6.8" text-anchor="end" fill="#222" stroke="#222" stroke-width="0.18" textLength="7.3" lengthAdjust="spacingAndGlyphs">0.0</text>
<line x1="179.0" y1="73.5" x2="182.3" y2="73.5" stroke="#1a1a1a" stroke-width="0.9"/>
<text x="176.4" y="75.9" font-size="6.8" text-anchor="end" fill="#222" stroke="#222" stroke-width="0.18" textLength="7.3" lengthAdjust="spacingAndGlyphs">0.5</text>
<line x1="179.0" y1="51.5" x2="182.3" y2="51.5" stroke="#1a1a1a" stroke-width="0.9"/>
<text x="176.4" y="53.9" font-size="6.8" text-anchor="end" fill="#222" stroke="#222" stroke-width="0.18" textLength="7.3" lengthAdjust="spacingAndGlyphs">1.0</text>
<line x1="179.0" y1="29.5" x2="182.3" y2="29.5" stroke="#1a1a1a" stroke-width="0.9"/>
<text x="176.4" y="31.9" font-size="6.8" text-anchor="end" fill="#222" stroke="#222" stroke-width="0.18" textLength="7.3" lengthAdjust="spacingAndGlyphs">1.5</text>
<text x="192.6" y="105.6" font-size="6.4" text-anchor="middle" fill="#2a2a2a" stroke="#2a2a2a" stroke-width="0.1">EV</text>
<text x="208.2" y="105.6" font-size="6.4" text-anchor="middle" fill="#2a2a2a" stroke="#2a2a2a" stroke-width="0.1">sg2</text>
<text x="223.8" y="105.6" font-size="6.4" text-anchor="middle" fill="#2a2a2a" stroke="#2a2a2a" stroke-width="0.1">sg5</text>
<text x="197.4" y="28.7" font-size="6.4" text-anchor="start" fill="#2a2a2a" stroke="#2a2a2a" stroke-width="0.08" textLength="19.4" lengthAdjust="spacingAndGlyphs">S100a8</text>
<text x="151.6" y="95.9" font-size="8.4" text-anchor="start" fill="#222" stroke="#222" stroke-width="0.08" textLength="69.1" lengthAdjust="spacingAndGlyphs" transform="rotate(-90 151.6 95.9)">Relative expression</text>
<text x="161.9" y="103.0" font-size="8.4" text-anchor="start" fill="#222" stroke="#222" stroke-width="0.08" textLength="82.7" lengthAdjust="spacingAndGlyphs" transform="rotate(-90 161.9 103.0)">(normalized to GAPDH)</text>
<line x1="283.45" y1="47.4" x2="283.45" y2="52.3" stroke="#222" stroke-width="0.8"/>
<line x1="281.05" y1="47.4" x2="285.84999999999997" y2="47.4" stroke="#222" stroke-width="0.9"/>
<rect x="278.0" y="52.3" width="10.899999999999977" height="45.10000000000001" fill="#3e5c8a"/>
<line x1="300.45" y1="87.4" x2="300.45" y2="88.6" stroke="#222" stroke-width="0.8"/>
<line x1="298.05" y1="87.4" x2="302.84999999999997" y2="87.4" stroke="#222" stroke-width="0.9"/>
<rect x="294.7" y="88.6" width="11.5" height="8.800000000000011" fill="#b03244"/>
<line x1="317.35" y1="90.4" x2="317.35" y2="96.4" stroke="#222" stroke-width="0.8"/>
<line x1="314.95000000000005" y1="90.4" x2="319.75" y2="90.4" stroke="#222" stroke-width="0.9"/>
<rect x="311.8" y="96.4" width="11.099999999999966" height="1.0" fill="#6cab53"/>
<line x1="272.2" y1="27.0" x2="272.2" y2="97.9" stroke="#1a1a1a" stroke-width="1.0"/>
<line x1="271.7" y1="97.4" x2="328.3" y2="97.4" stroke="#1a1a1a" stroke-width="1.0"/>
<line x1="268.9" y1="97.4" x2="272.2" y2="97.4" stroke="#1a1a1a" stroke-width="0.9"/>
<text x="266.2" y="99.8" font-size="6.8" text-anchor="end" fill="#222" stroke="#222" stroke-width="0.18" textLength="7.3" lengthAdjust="spacingAndGlyphs">0.0</text>
<line x1="268.9" y1="74.80000000000001" x2="272.2" y2="74.80000000000001" stroke="#1a1a1a" stroke-width="0.9"/>
<text x="266.2" y="77.2" font-size="6.8" text-anchor="end" fill="#222" stroke="#222" stroke-width="0.18" textLength="7.3" lengthAdjust="spacingAndGlyphs">0.5</text>
<line x1="268.9" y1="52.2" x2="272.2" y2="52.2" stroke="#1a1a1a" stroke-width="0.9"/>
<text x="266.2" y="54.6" font-size="6.8" text-anchor="end" fill="#222" stroke="#222" stroke-width="0.18" textLength="7.3" lengthAdjust="spacingAndGlyphs">1.0</text>
<line x1="268.9" y1="29.599999999999994" x2="272.2" y2="29.599999999999994" stroke="#1a1a1a" stroke-width="0.9"/>
<text x="266.2" y="32.0" font-size="6.8" text-anchor="end" fill="#222" stroke="#222" stroke-width="0.18" textLength="7.3" lengthAdjust="spacingAndGlyphs">1.5</text>
<text x="283.2" y="107.3" font-size="6.4" text-anchor="middle" fill="#2a2a2a" stroke="#2a2a2a" stroke-width="0.1">EV</text>
<text x="300.5" y="107.3" font-size="6.4" text-anchor="middle" fill="#2a2a2a" stroke="#2a2a2a" stroke-width="0.1">sg2</text>
<text x="317.1" y="107.3" font-size="6.4" text-anchor="middle" fill="#2a2a2a" stroke="#2a2a2a" stroke-width="0.1">sg5</text>
<text x="287.6" y="30.3" font-size="6.4" text-anchor="start" fill="#2a2a2a" stroke="#2a2a2a" stroke-width="0.08" textLength="20.0" lengthAdjust="spacingAndGlyphs">S100a9</text>
<text x="241.7" y="95.9" font-size="8.4" text-anchor="start" fill="#222" stroke="#222" stroke-width="0.08" textLength="67.7" lengthAdjust="spacingAndGlyphs" transform="rotate(-90 241.7 95.9)">Relative expression</text>
<text x="252.2" y="104.7" font-size="8.4" text-anchor="start" fill="#222" stroke="#222" stroke-width="0.08" textLength="83.8" lengthAdjust="spacingAndGlyphs" transform="rotate(-90 252.2 104.7)">(normalized to GAPDH)</text>
<line x1="377.1" y1="50.4" x2="377.1" y2="53.2" stroke="#222" stroke-width="0.8"/>
<line x1="374.70000000000005" y1="50.4" x2="379.5" y2="50.4" stroke="#222" stroke-width="0.9"/>
<rect x="372.0" y="53.2" width="10.199999999999989" height="44.2" fill="#3e5c8a"/>
<line x1="392.7" y1="87.0" x2="392.7" y2="87.9" stroke="#222" stroke-width="0.8"/>
<line x1="390.3" y1="87.0" x2="395.09999999999997" y2="87.0" stroke="#222" stroke-width="0.9"/>
<rect x="387.4" y="87.9" width="10.600000000000023" height="9.5" fill="#b03244"/>
<line x1="408.25" y1="84.4" x2="408.25" y2="87.4" stroke="#222" stroke-width="0.8"/>
<line x1="405.85" y1="84.4" x2="410.65" y2="84.4" stroke="#222" stroke-width="0.9"/>
<rect x="403.2" y="87.4" width="10.100000000000023" height="10.0" fill="#6cab53"/>
<line x1="366.3" y1="28.0" x2="366.3" y2="97.9" stroke="#1a1a1a" stroke-width="1.0"/>
<line x1="365.8" y1="97.4" x2="418.6" y2="97.4" stroke="#1a1a1a" stroke-width="1.0"/>
<line x1="363.0" y1="97.4" x2="366.3" y2="97.4" stroke="#1a1a1a" stroke-width="0.9"/>
<text x="360.9" y="99.8" font-size="6.8" text-anchor="end" fill="#222" stroke="#222" stroke-width="0.18" textLength="7.3" lengthAdjust="spacingAndGlyphs">0.0</text>
<line x1="363.0" y1="75.45" x2="366.3" y2="75.45" stroke="#1a1a1a" stroke-width="0.9"/>
<text x="360.9" y="77.85" font-size="6.8" text-anchor="end" fill="#222" stroke="#222" stroke-width="0.18" textLength="7.3" lengthAdjust="spacingAndGlyphs">0.5</text>
<line x1="363.0" y1="53.50000000000001" x2="366.3" y2="53.50000000000001" stroke="#1a1a1a" stroke-width="0.9"/>
<text x="360.9" y="55.9" font-size="6.8" text-anchor="end" fill="#222" stroke="#222" stroke-width="0.18" textLength="7.3" lengthAdjust="spacingAndGlyphs">1.0</text>
<line x1="363.0" y1="31.55000000000001" x2="366.3" y2="31.55000000000001" stroke="#1a1a1a" stroke-width="0.9"/>
<text x="360.9" y="33.95" font-size="6.8" text-anchor="end" fill="#222" stroke="#222" stroke-width="0.18" textLength="7.3" lengthAdjust="spacingAndGlyphs">1.5</text>
<text x="377.6" y="106.3" font-size="6.4" text-anchor="middle" fill="#2a2a2a" stroke="#2a2a2a" stroke-width="0.1">EV</text>
<text x="393.5" y="106.3" font-size="6.4" text-anchor="middle" fill="#2a2a2a" stroke="#2a2a2a" stroke-width="0.1">sg2</text>
<text x="410.6" y="106.3" font-size="6.4" text-anchor="middle" fill="#2a2a2a" stroke="#2a2a2a" stroke-width="0.1">sg5</text>
<text x="381.8" y="30.3" font-size="6.4" text-anchor="start" fill="#2a2a2a" stroke="#2a2a2a" stroke-width="0.08" textLength="12.0" lengthAdjust="spacingAndGlyphs">Ngp</text>
<text x="335.3" y="97.4" font-size="8.4" text-anchor="start" fill="#222" stroke="#222" stroke-width="0.08" textLength="69.2" lengthAdjust="spacingAndGlyphs" transform="rotate(-90 335.3 97.4)">Relative expression</text>
<text x="345.9" y="104.7" font-size="8.4" text-anchor="start" fill="#222" stroke="#222" stroke-width="0.08" textLength="83.8" lengthAdjust="spacingAndGlyphs" transform="rotate(-90 345.9 104.7)">(normalized to GAPDH)</text>
<line x1="468.1" y1="46.8" x2="468.1" y2="52.0" stroke="#222" stroke-width="0.8"/>
<line x1="465.70000000000005" y1="46.8" x2="470.5" y2="46.8" stroke="#222" stroke-width="0.9"/>
<rect x="462.5" y="52.0" width="11.199999999999989" height="45.2" fill="#3e5c8a"/>
<line x1="484.85" y1="87.4" x2="484.85" y2="88.2" stroke="#222" stroke-width="0.8"/>
<line x1="482.45000000000005" y1="87.4" x2="487.25" y2="87.4" stroke="#222" stroke-width="0.9"/>
<rect x="479.1" y="88.2" width="11.5" height="9.0" fill="#b03244"/>
<line x1="501.75" y1="90.4" x2="501.75" y2="96.4" stroke="#222" stroke-width="0.8"/>
<line x1="499.35" y1="90.4" x2="504.15" y2="90.4" stroke="#222" stroke-width="0.9"/>
<rect x="496.2" y="96.4" width="11.100000000000023" height="0.7999999999999972" fill="#6cab53"/>
<line x1="456.8" y1="26.5" x2="456.8" y2="97.7" stroke="#1a1a1a" stroke-width="1.0"/>
<line x1="456.3" y1="97.2" x2="513.0" y2="97.2" stroke="#1a1a1a" stroke-width="1.0"/>
<line x1="453.5" y1="97.2" x2="456.8" y2="97.2" stroke="#1a1a1a" stroke-width="0.9"/>
<text x="451.0" y="99.6" font-size="6.8" text-anchor="end" fill="#222" stroke="#222" stroke-width="0.18" textLength="7.3" lengthAdjust="spacingAndGlyphs">0.0</text>
<line x1="453.5" y1="74.5" x2="456.8" y2="74.5" stroke="#1a1a1a" stroke-width="0.9"/>
<text x="451.0" y="76.9" font-size="6.8" text-anchor="end" fill="#222" stroke="#222" stroke-width="0.18" textLength="7.3" lengthAdjust="spacingAndGlyphs">0.5</text>
<line x1="453.5" y1="51.800000000000004" x2="456.8" y2="51.800000000000004" stroke="#1a1a1a" stroke-width="0.9"/>
<text x="451.0" y="54.2" font-size="6.8" text-anchor="end" fill="#222" stroke="#222" stroke-width="0.18" textLength="7.3" lengthAdjust="spacingAndGlyphs">1.0</text>
<line x1="453.5" y1="29.10000000000001" x2="456.8" y2="29.10000000000001" stroke="#1a1a1a" stroke-width="0.9"/>
<text x="451.0" y="31.5" font-size="6.8" text-anchor="end" fill="#222" stroke="#222" stroke-width="0.18" textLength="7.3" lengthAdjust="spacingAndGlyphs">1.5</text>
<text x="468.2" y="105.5" font-size="6.4" text-anchor="middle" fill="#2a2a2a" stroke="#2a2a2a" stroke-width="0.1">EV</text>
<text x="484.8" y="105.5" font-size="6.4" text-anchor="middle" fill="#2a2a2a" stroke="#2a2a2a" stroke-width="0.1">sg2</text>
<text x="501.7" y="105.5" font-size="6.4" text-anchor="middle" fill="#2a2a2a" stroke="#2a2a2a" stroke-width="0.1">sg5</text>
<text x="477.4" y="32.0" font-size="6.4" text-anchor="start" fill="#2a2a2a" stroke="#2a2a2a" stroke-width="0.08" textLength="6.6" lengthAdjust="spacingAndGlyphs">Ltf</text>
<text x="425.7" y="96.8" font-size="8.4" text-anchor="start" fill="#222" stroke="#222" stroke-width="0.08" textLength="70.0" lengthAdjust="spacingAndGlyphs" transform="rotate(-90 425.7 96.8)">Relative expression</text>
<text x="436.2" y="104.1" font-size="8.4" text-anchor="start" fill="#222" stroke="#222" stroke-width="0.08" textLength="83.8" lengthAdjust="spacingAndGlyphs" transform="rotate(-90 436.2 104.1)">(normalized to GAPDH)</text>
<circle cx="208.2" cy="203.6" r="36.8" fill="#f2d08c"/>
<circle cx="251.9" cy="204.6" r="18.1" fill="#a9b99b"/>
<clipPath id="oc"><circle cx="208.2" cy="203.6" r="36.8"/></clipPath>
<circle cx="251.9" cy="204.6" r="18.1" fill="#aeb887" clip-path="url(#oc)"/>
<text x="176.5" y="148.9" font-size="7.5" text-anchor="start" fill="#1a1a1a" stroke="#1a1a1a" stroke-width="0.18" textLength="69.7" lengthAdjust="spacingAndGlyphs">Downregulated genes</text>
<text x="243.1" y="172.6" font-size="7.5" text-anchor="start" fill="#1a1a1a" stroke="#1a1a1a" stroke-width="0.18" textLength="80.0" lengthAdjust="spacingAndGlyphs">+6kb enhancer repressed</text>
<text x="243.1" y="181.2" font-size="7.5" text-anchor="start" fill="#1a1a1a" stroke="#1a1a1a" stroke-width="0.18" textLength="28.1" lengthAdjust="spacingAndGlyphs">32D cells</text>
<text x="146.3" y="238.6" font-size="7.5" text-anchor="start" fill="#1a1a1a" stroke="#1a1a1a" stroke-width="0.18" textLength="30.2" lengthAdjust="spacingAndGlyphs">CEBPE KO</text>
<text x="146.3" y="246.6" font-size="7.5" text-anchor="start" fill="#1a1a1a" stroke="#1a1a1a" stroke-width="0.18" textLength="68.3" lengthAdjust="spacingAndGlyphs">immature neutrophils</text>
<text x="201.2" y="206.2" font-size="7.2" text-anchor="start" fill="#2a2a2a" stroke="#2a2a2a" stroke-width="0.38" textLength="14.8" lengthAdjust="spacingAndGlyphs">7916</text>
<text x="235.2" y="208.0" font-size="7.6" text-anchor="start" fill="#111" stroke="#111" stroke-width="0.3" textLength="7.3" lengthAdjust="spacingAndGlyphs">95</text>
<text x="249.3" y="208.0" font-size="7.6" text-anchor="start" fill="#111" stroke="#111" stroke-width="0.3" textLength="10.8" lengthAdjust="spacingAndGlyphs">163</text>
<line x1="390.20000000000005" y1="190.6" x2="390.20000000000005" y2="191.8" stroke="#222" stroke-width="0.8"/>
<line x1="388.40000000000003" y1="190.6" x2="392.00000000000006" y2="190.6" stroke="#222" stroke-width="0.9"/>
<rect x="386.8" y="191.8" width="6.800000000000011" height="68.80000000000001" fill="#3e5c8a"/>
<line x1="400.35" y1="243.5" x2="400.35" y2="254.1" stroke="#222" stroke-width="0.8"/>
<line x1="398.55" y1="243.5" x2="402.15000000000003" y2="243.5" stroke="#222" stroke-width="0.9"/>
<rect x="396.6" y="254.1" width="7.5" height="6.500000000000028" fill="#b03244"/>
<line x1="410.35" y1="252.3" x2="410.35" y2="257.9" stroke="#222" stroke-width="0.8"/>
<line x1="408.55" y1="252.3" x2="412.15000000000003" y2="252.3" stroke="#222" stroke-width="0.9"/>
<rect x="406.9" y="257.9" width="6.900000000000034" height="2.7000000000000455" fill="#6cab53"/>
<line x1="427.4" y1="187.4" x2="427.4" y2="197.6" stroke="#222" stroke-width="0.8"/>
<line x1="425.59999999999997" y1="187.4" x2="429.2" y2="187.4" stroke="#222" stroke-width="0.9"/>
<rect x="424.0" y="197.6" width="6.800000000000011" height="63.00000000000003" fill="#3e5c8a"/>
<line x1="437.65" y1="257.1" x2="437.65" y2="258.5" stroke="#222" stroke-width="0.8"/>
<line x1="435.84999999999997" y1="257.1" x2="439.45" y2="257.1" stroke="#222" stroke-width="0.9"/>
<rect x="434.3" y="258.5" width="6.699999999999989" height="2.1000000000000227" fill="#b03244"/>
<line x1="447.65" y1="256.9" x2="447.65" y2="258.1" stroke="#222" stroke-width="0.8"/>
<line x1="445.84999999999997" y1="256.9" x2="449.45" y2="256.9" stroke="#222" stroke-width="0.9"/>
<rect x="444.3" y="258.1" width="6.699999999999989" height="2.5" fill="#6cab53"/>
<line x1="464.45000000000005" y1="188.5" x2="464.45000000000005" y2="195.1" stroke="#222" stroke-width="0.8"/>
<line x1="462.65000000000003" y1="188.5" x2="466.25000000000006" y2="188.5" stroke="#222" stroke-width="0.9"/>
<rect x="461.1" y="195.1" width="6.699999999999989" height="65.50000000000003" fill="#3e5c8a"/>
<line x1="474.54999999999995" y1="253.1" x2="474.54999999999995" y2="256.0" stroke="#222" stroke-width="0.8"/>
<line x1="472.74999999999994" y1="253.1" x2="476.34999999999997" y2="253.1" stroke="#222" stroke-width="0.9"/>
<rect x="471.2" y="256.0" width="6.699999999999989" height="4.600000000000023" fill="#b03244"/>
<line x1="485.05" y1="255.2" x2="485.05" y2="256.5" stroke="#222" stroke-width="0.8"/>
<line x1="483.25" y1="255.2" x2="486.85" y2="255.2" stroke="#222" stroke-width="0.9"/>
<rect x="481.6" y="256.5" width="6.899999999999977" height="4.100000000000023" fill="#6cab53"/>
<line x1="381.4" y1="152.3" x2="381.4" y2="261.1" stroke="#1a1a1a" stroke-width="1.0"/>
<line x1="380.9" y1="260.6" x2="493.7" y2="260.6" stroke="#1a1a1a" stroke-width="1.0"/>
<line x1="377.59999999999997" y1="260.6" x2="381.4" y2="260.6" stroke="#1a1a1a" stroke-width="0.9"/>
<text x="374.9" y="263.1" font-size="7.3" text-anchor="end" fill="#222" stroke="#222" stroke-width="0.18" textLength="9.4" lengthAdjust="spacingAndGlyphs">0.0</text>
<line x1="377.59999999999997" y1="225.40000000000003" x2="381.4" y2="225.40000000000003" stroke="#1a1a1a" stroke-width="0.9"/>
<text x="374.9" y="227.9" font-size="7.3" text-anchor="end" fill="#222" stroke="#222" stroke-width="0.18" textLength="9.4" lengthAdjust="spacingAndGlyphs">0.5</text>
<line x1="377.59999999999997" y1="190.20000000000002" x2="381.4" y2="190.20000000000002" stroke="#1a1a1a" stroke-width="0.9"/>
<text x="374.9" y="192.7" font-size="7.3" text-anchor="end" fill="#222" stroke="#222" stroke-width="0.18" textLength="9.4" lengthAdjust="spacingAndGlyphs">1.0</text>
<line x1="377.59999999999997" y1="155.0" x2="381.4" y2="155.0" stroke="#1a1a1a" stroke-width="0.9"/>
<text x="374.9" y="157.5" font-size="7.3" text-anchor="end" fill="#222" stroke="#222" stroke-width="0.18" textLength="9.4" lengthAdjust="spacingAndGlyphs">1.5</text>
<text x="346.8" y="245.2" font-size="8.8" text-anchor="start" fill="#222" stroke="#222" stroke-width="0.18" textLength="77.7" lengthAdjust="spacingAndGlyphs" transform="rotate(-90 346.8 245.2)">Relative expression</text>
<text x="358.3" y="253.0" font-size="8.8" text-anchor="start" fill="#222" stroke="#222" stroke-width="0.18" textLength="92.4" lengthAdjust="spacingAndGlyphs" transform="rotate(-90 358.3 253.0)">(normalized to Gapdh)</text>
<rect x="389.2" y="158.6" width="9.5" height="2.6" fill="#3e5c8a"/>
<text x="402.1" y="162.0" font-size="6.6" text-anchor="start" fill="#222" stroke="#222" stroke-width="0.18" textLength="8.1" lengthAdjust="spacingAndGlyphs">EV</text>
<rect x="420.0" y="158.6" width="9.600000000000023" height="2.6" fill="#b03244"/>
<text x="432.9" y="162.0" font-size="6.6" text-anchor="start" fill="#222" stroke="#222" stroke-width="0.18" textLength="10.9" lengthAdjust="spacingAndGlyphs">sg2</text>
<rect x="454.0" y="158.6" width="9.0" height="2.6" fill="#6cab53"/>
<text x="466.5" y="162.0" font-size="6.6" text-anchor="start" fill="#222" stroke="#222" stroke-width="0.18" textLength="10.6" lengthAdjust="spacingAndGlyphs">sg5</text>
<line x1="389.4" y1="174.8" x2="414.0" y2="174.8" stroke="#3a3a3a" stroke-width="1.1"/>
<circle cx="399.55" cy="171.8" r="0.95" fill="#222"/>
<circle cx="403.25" cy="171.8" r="0.95" fill="#222"/>
<line x1="426.3" y1="174.8" x2="450.5" y2="174.8" stroke="#3a3a3a" stroke-width="1.1"/>
<circle cx="436.25" cy="171.8" r="0.95" fill="#222"/>
<circle cx="439.95" cy="171.8" r="0.95" fill="#222"/>
<line x1="464.3" y1="174.8" x2="489.0" y2="174.8" stroke="#3a3a3a" stroke-width="1.1"/>
<circle cx="474.5" cy="171.8" r="0.95" fill="#222"/>
<circle cx="478.2" cy="171.8" r="0.95" fill="#222"/>
<line x1="389.4" y1="184.8" x2="405.0" y2="184.8" stroke="#3a3a3a" stroke-width="1.1"/>
<circle cx="396.7" cy="181.2" r="0.95" fill="#222"/>
<line x1="426.3" y1="184.8" x2="441.4" y2="184.8" stroke="#3a3a3a" stroke-width="1.1"/>
<circle cx="431.7" cy="181.8" r="0.95" fill="#222"/>
<circle cx="435.4" cy="181.8" r="0.95" fill="#222"/>
<line x1="464.3" y1="184.8" x2="480.2" y2="184.8" stroke="#3a3a3a" stroke-width="1.1"/>
<circle cx="470.1" cy="181.8" r="0.95" fill="#222"/>
<circle cx="473.8" cy="181.8" r="0.95" fill="#222"/>
<text x="401.1" y="270.5" font-size="8.0" text-anchor="middle" fill="#222" stroke="#222" stroke-width="0.18" textLength="22.4" lengthAdjust="spacingAndGlyphs">Cebpe</text>
<text x="441.1" y="270.5" font-size="8.0" text-anchor="middle" fill="#222" stroke="#222" stroke-width="0.18" textLength="8.6" lengthAdjust="spacingAndGlyphs">Ltf</text>
<text x="479.0" y="270.5" font-size="8.0" text-anchor="middle" fill="#222" stroke="#222" stroke-width="0.18" textLength="14.0" lengthAdjust="spacingAndGlyphs">Ngp</text>
<rect x="0" y="0" width="520" height="1" fill="#000"/>
<rect x="0" y="0" width="1" height="340" fill="#000"/>
<rect x="519" y="0" width="1" height="340" fill="#000"/>
<rect x="0" y="339" width="520" height="1" fill="#000"/>
<rect x="518" y="0" width="1" height="340" fill="#000" opacity="0.28"/>
<rect x="0" y="338" width="520" height="1" fill="#000" opacity="0.28"/>
</svg>
</body></html>
